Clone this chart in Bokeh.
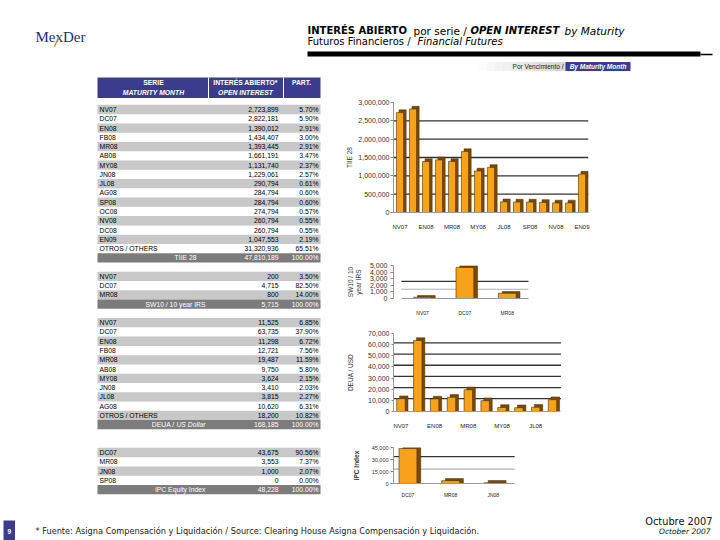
from bokeh.plotting import figure
from bokeh.layouts import column, row
from bokeh.models import Range1d, FixedTicker, NumeralTickFormatter, ColumnDataSource
from bokeh.core.properties import value
from bokeh.embed import file_html
from bokeh.resources import INLINE

# ---------------- data ----------------
tiie_series = ["NV07", "DC07", "EN08", "FB08", "MR08", "AB08", "MY08", "JN08", "JL08",
               "AG08", "SP08", "OC08", "NV08", "DC08", "EN09", "OTROS / OTHERS"]
tiie_oi = [2723899, 2822181, 1390012, 1434407, 1393445, 1661191, 1131740, 1229061, 290794,
           284794, 284794, 274794, 260794, 260794, 1047553, 31320936]
tiie_pct = ["5.70%", "5.90%", "2.91%", "3.00%", "2.91%", "3.47%", "2.37%", "2.57%", "0.61%",
            "0.60%", "0.60%", "0.57%", "0.55%", "0.55%", "2.19%", "65.51%"]
tiie_total = 47810189

sw_series = ["NV07", "DC07", "MR08"]
sw_oi = [200, 4715, 800]
sw_pct = ["3.50%", "82.50%", "14.00%"]
sw_total = 5715

deua_series = ["NV07", "DC07", "EN08", "FB08", "MR08", "AB08", "MY08", "JN08", "JL08", "AG08",
               "OTROS / OTHERS"]
deua_oi = [11525, 63735, 11298, 12721, 19487, 9750, 3624, 3410, 3815, 10620, 18200]
deua_pct = ["6.85%", "37.90%", "6.72%", "7.56%", "11.59%", "5.80%", "2.15%", "2.03%", "2.27%",
            "6.31%", "10.82%"]
deua_total = 168185

ipc_series = ["DC07", "MR08", "JN08", "SP08"]
ipc_oi = [43675, 3553, 1000, 0]
ipc_pct = ["90.56%", "7.37%", "2.07%", "0.00%"]
ipc_total = 48228

tiie_ticks = [0, 500000, 1000000, 1500000, 2000000, 2500000, 3000000]
sw_ticks = [0, 1000, 2000, 3000, 4000, 5000]
deua_ticks = [0, 10000, 20000, 30000, 40000, 50000, 60000, 70000]
ipc_ticks = [0, 15000, 30000, 45000]

PURPLE = "#3c3c8e"
ORANGE = "#F7A21B"
DARK = "#7A4A05"
EDGE = "#4a2e00"
FONT = "Liberation Sans"


def txt(p, x, y, s, size="6.8px", color="#000000", align="left", style="normal",
        font=FONT, baseline="middle"):
    xs = x if isinstance(x, list) else [x]
    ys = y if isinstance(y, list) else [y]
    ss = s if isinstance(s, list) else [s]
    n = max(len(xs), len(ys), len(ss))
    xs = xs * n if len(xs) == 1 else xs
    ys = ys * n if len(ys) == 1 else ys
    ss = ss * n if len(ss) == 1 else ss
    p.text(x=xs, y=ys, text=ss, text_font=value(font), text_font_size=size,
           text_color=color, text_align=align, text_font_style=style, text_baseline=baseline)


def canvas(w, h, x0, x1, y0, y1):
    p = figure(width=w, height=h, x_range=Range1d(x0, x1), y_range=Range1d(y1, y0),
               x_axis_type=None, y_axis_type=None, output_backend="svg",
               toolbar_location=None, min_border=0, title=None)
    p.outline_line_color = None
    p.background_fill_color = "white"
    p.border_fill_color = "white"
    return p


# ---------------- header ----------------
hdr = canvas(720, 76, 0, 720, 0, 76)
txt(hdr, 35, 36, "MexDer", size="15px", color="#24306e", font="Liberation Serif")
hdr.segment(x0=[58], y0=[37], x1=[54], y1=[46], line_color="#c0924a", line_width=1.5)

tf = "DejaVu Sans"
txt(hdr, 307, 30, "INTERÉS ABIERTO", size="10px", style="bold", font=tf)
txt(hdr, 413, 30, "por serie /", size="10.5px", font=tf)
txt(hdr, 470, 30, "OPEN INTEREST", size="10px", style="bold italic", font=tf)
txt(hdr, 564, 30, "by Maturity", size="10.5px", style="italic", font=tf)
txt(hdr, 307, 41, "Futuros Financieros /", size="10px", font=tf)
txt(hdr, 417, 41, "Financial Futures", size="10px", style="italic", font=tf)
hdr.segment(x0=[307], y0=[53.5], x1=[700], y1=[53.5], line_color="black", line_width=5)
hdr.segment(x0=[700], y0=[54], x1=[712], y1=[54], line_color="black", line_width=1.5)

nsteps = 12
gx = [470 + i * (95 / nsteps) for i in range(nsteps)]
gcol = []
for i in range(nsteps):
    c = 255 - int(i * 45 / nsteps)
    gcol.append("#%02x%02x%02x" % (c, c, c))
hdr.quad(left=gx, right=[g + 95 / nsteps + 0.5 for g in gx], top=61.5, bottom=70.5,
         fill_color=gcol, line_color=None)
hdr.quad(left=565, right=630, top=61.5, bottom=70.5, fill_color=PURPLE, line_color=None)
txt(hdr, 563, 66, "Por Vencimiento /", size="6.5px", color="#222222", align="right")
txt(hdr, 597.5, 66, "By Maturity Month", size="6.5px", color="white", align="center",
    style="bold italic")

# ---------------- table ----------------
left = canvas(343, 424, 0, 343, 76, 500)
XL, XR = 97, 320
Y0, DY = 109.0, 9.27

left.quad(left=XL, right=XR, top=77, bottom=97.5, fill_color=PURPLE, line_color=None)
left.segment(x0=[208, 283], y0=[77, 77], x1=[208, 283], y1=[97.5, 97.5],
             line_color="white", line_width=1)
txt(left, 153, 82, "SERIE", color="white", align="center", style="bold")
txt(left, 153, 92, "MATURITY MONTH", color="white", align="center", style="bold italic")
txt(left, 245, 82, "INTERÉS ABIERTO*", color="white", align="center", style="bold")
txt(left, 245, 92, "OPEN INTEREST", color="white", align="center", style="bold italic")
txt(left, 301, 82, "PART.", color="white", align="center", style="bold")


def section(labels, vals, pcts, total_val, total_parts, start):
    n = len(labels)
    ys = [Y0 + (start + i) * DY for i in range(n)]
    gy = [ys[i] for i in range(n) if i % 2 == 0]
    left.quad(left=XL, right=XR, top=[y - DY / 2 for y in gy], bottom=[y + DY / 2 for y in gy],
              fill_color="#c8c8c8", line_color=None)
    txt(left, 99, ys, labels)
    txt(left, 278, ys, [f"{v:,}" for v in vals], align="right")
    txt(left, 318, ys, pcts, align="right")
    yt = Y0 + (start + n) * DY
    left.quad(left=XL, right=XR, top=yt - DY / 2, bottom=yt + DY / 2,
              fill_color="#7c7c7c", line_color=None)
    for (s, x, st) in total_parts:
        txt(left, x, yt, s, color="white", align="right", style=st)
    txt(left, 278, yt, f"{total_val:,}", color="white", align="right")
    txt(left, 318, yt, "100.00%", color="white", align="right")


section(tiie_series, tiie_oi, tiie_pct, tiie_total, [("TIIE 28", 196, "normal")], 0)
section(sw_series, sw_oi, sw_pct, sw_total, [("SW10 / 10 year IRS", 205, "normal")], 18)
section(deua_series, deua_oi, deua_pct, deua_total,
        [("DEUA /", 174, "normal"), ("US Dollar", 205, "italic")], 23)
section(ipc_series, ipc_oi, ipc_pct, ipc_total, [("IPC Equity Index", 205, "normal")], 37)


# ---------------- charts ----------------
RW = 377          # width of the right column
BL, BR = 47, 132  # common side borders (frames of a column are aligned by Bokeh)
FW = RW - BL - BR


def bar_chart(cats, vals, height, bt, fh, lpad, rpad, ticks, ylabel, tick_font, tick_out,
              tick_standoff, lab_standoff, xfont, xstand, bar_w, dx, dyf, dark_grid,
              light_grid, every_other=False, lab_style="normal"):
    ymax = ticks[-1]
    n = len(cats)
    ppc = (FW - lpad - rpad) / n
    x0 = -0.5 - lpad / ppc
    x1 = n - 0.5 + rpad / ppc
    p = figure(width=RW, height=height, x_range=Range1d(x0, x1),
               y_range=Range1d(0, ymax), output_backend="svg", toolbar_location=None,
               title=None, min_border_left=BL, min_border_right=BR,
               min_border_top=bt, min_border_bottom=height - bt - fh)
    p.outline_line_color = None
    p.xgrid.visible = False
    p.ygrid.visible = False

    gs = max(x0, -0.5)
    p.segment(x0=gs, x1=n - 0.5, y0=dark_grid, y1=dark_grid, line_color="#333333",
              line_width=1.3, level="underlay")
    if light_grid:
        p.segment(x0=gs, x1=n - 0.5, y0=light_grid, y1=light_grid, line_color="#b0b0b0",
                  line_width=1.2, level="underlay")

    idx = list(range(n))
    src = ColumnDataSource(dict(x=idx, xs=[i + dx for i in idx], val=vals,
                                shadow=[v + dyf * ymax for v in vals]))
    p.vbar(x="xs", top="shadow", width=bar_w, source=src,
           fill_color=DARK, line_color=EDGE, line_width=0.5)
    p.vbar(x="x", top="val", width=bar_w, source=src, fill_color=ORANGE,
           line_color=EDGE, line_width=0.6)

    ya = p.yaxis[0]
    ya.ticker = FixedTicker(ticks=ticks)
    ya.formatter = NumeralTickFormatter(format="0,0")
    ya.major_label_text_font = FONT
    ya.major_label_text_font_size = tick_font
    ya.major_label_text_color = "#333333"
    ya.major_label_standoff = tick_standoff
    ya.major_tick_in = 0
    ya.major_tick_out = tick_out
    ya.major_tick_line_color = "#888888"
    ya.minor_tick_line_color = None
    ya.axis_line_color = "#999999"
    ya.axis_label = ylabel
    ya.axis_label_standoff = lab_standoff
    ya.axis_label_text_font = FONT
    ya.axis_label_text_font_size = "6.5px"
    ya.axis_label_text_font_style = lab_style
    ya.axis_label_text_color = "#333333"

    shown = [i for i in idx if (not every_other) or i % 2 == 0]
    xa = p.xaxis[0]
    xa.ticker = FixedTicker(ticks=shown)
    xa.major_label_overrides = {i: cats[i] for i in shown}
    xa.major_label_text_font = FONT
    xa.major_label_text_font_size = xfont
    xa.major_label_text_color = "#222222"
    xa.major_tick_line_color = None
    xa.minor_tick_line_color = None
    xa.axis_line_color = "#999999"
    xa.major_label_standoff = xstand
    xa.bounds = (gs, n - 0.5)
    return p


c1 = bar_chart(tiie_series[:15], tiie_oi[:15], 156, 26, 110, 0, 0, tiie_ticks, "TIIE 28",
               "7px", 3, 1, 2, "6px", 5, 0.55, 0.2, 0.025,
               [500000, 1000000, 1500000, 2000000, 2500000], None, every_other=True)
c2 = bar_chart(sw_series, sw_oi, 86, 33, 38, 8, 61, sw_ticks, "SW10 / 10\nyear IRS",
               "7px", 3, 3, 5, "5px", 5, 0.42, 0.09, 0.05, [2600], [1400])
c3 = bar_chart(deua_series[:10], deua_oi[:10], 118, 15, 78, -1, 28, deua_ticks, "DEUA / USD",
               "7px", 2, 2, 11, "6px", 5, 0.5, 0.17, 0.035,
               [11500, 21500, 31500, 41500, 51500, 61500], None, every_other=True)
c4 = bar_chart(ipc_series[:3], ipc_oi[:3], 64, 11, 44, -7, 75, ipc_ticks, "IPC Index",
               "5.5px", 3, 2, 9, "5px", 2, 0.42, 0.09, 0.06, [33500], [18000],
               lab_style="bold")

right = column(c1, c2, c3, c4, spacing=0)

# ---------------- footer ----------------
ftr = canvas(720, 40, 0, 720, 500, 540)
ftr.quad(left=3, right=14.5, top=520, bottom=540, fill_color=PURPLE, line_color=None)
txt(ftr, 8.7, 531, "9", size="6.5px", color="white", align="center", style="bold")
txt(ftr, 35, 530,
    "* Fuente: Asigna Compensación y Liquidación / Source: Clearing House Asigna Compensación y Liquidación.",
    size="8.2px", font="DejaVu Sans", color="#222222")
txt(ftr, 712, 521, "Octubre 2007", size="9.8px", font="DejaVu Sans", align="right",
    color="#111111")
txt(ftr, 710, 531, "October 2007", size="7.5px", font="DejaVu Sans", align="right",
    style="italic", color="#111111")

layout = column(hdr, row(left, right, spacing=0), ftr, spacing=0)

open("out.html", "w").write(file_html(layout, INLINE))
